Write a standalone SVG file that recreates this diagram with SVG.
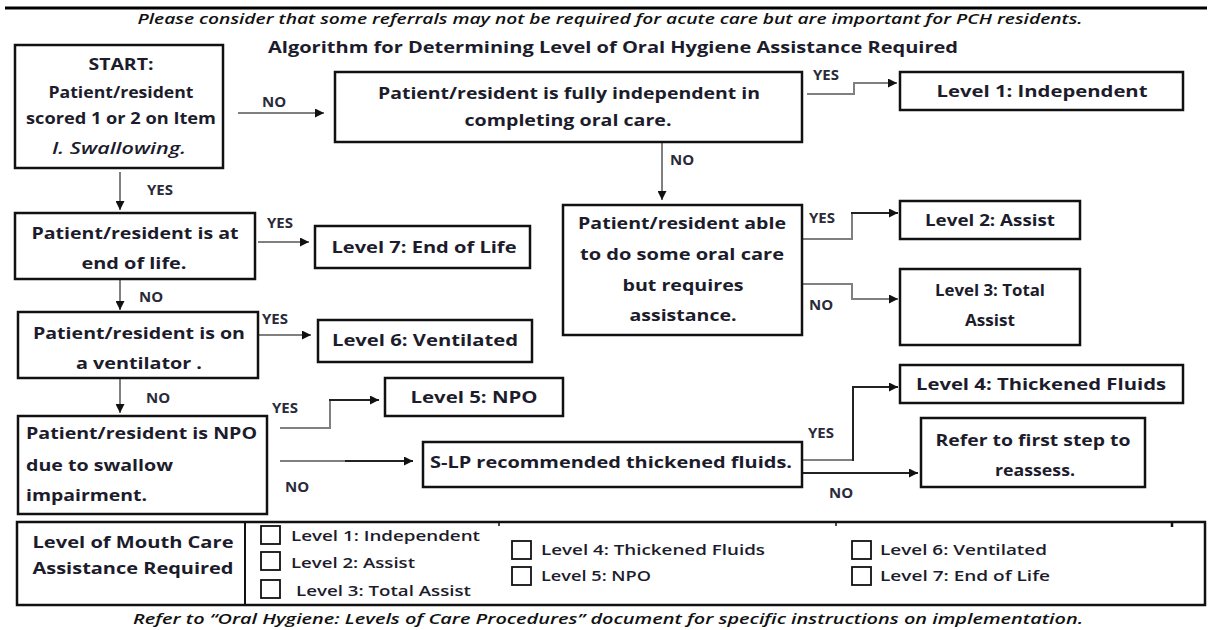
<svg xmlns="http://www.w3.org/2000/svg" width="1211" height="630" viewBox="0 0 1211 630">
<defs>
<marker id="arr" viewBox="0 0 10 10" refX="10" refY="5" markerWidth="9" markerHeight="9" markerUnits="userSpaceOnUse" orient="auto">
<path d="M0,0 L10,5 L0,10 z" fill="#111"/>
</marker>
</defs>
<style>
.box{fill:#fff;stroke:#111;stroke-width:2.5}
.b{font-family:"Open Sans","Liberation Sans",sans-serif;font-weight:700;font-size:16px;fill:#1c1c2c;text-anchor:middle}
.l{text-anchor:start}
.it{font-style:italic;font-weight:600}
.lab{font-family:"Open Sans","Liberation Sans",sans-serif;font-weight:700;font-size:15px;fill:#2a2a3a}
.hd{font-family:"Open Sans","Liberation Sans",sans-serif;font-weight:600;font-style:italic;font-size:14px;fill:#111;text-anchor:middle}
.ck{fill:#fff;stroke:#111;stroke-width:1.8}
.ct{font-family:"Open Sans","Liberation Sans",sans-serif;font-weight:600;font-size:15px;fill:#1c1c2c}
.c{fill:none;stroke:#808080;stroke-width:2}
.a{marker-end:url(#arr)}
.d{stroke:#222}
</style>
<rect width="1211" height="630" fill="#fff"/>
<line x1="5" y1="8" x2="1207" y2="8" stroke="#000" stroke-width="3"/>
<text class="hd" x="610" y="24" textLength="945" lengthAdjust="spacingAndGlyphs">Please consider that some referrals may not be required for acute care but are important for PCH residents.</text>
<text class="b" x="613" y="53" textLength="690" lengthAdjust="spacingAndGlyphs">Algorithm for Determining Level of Oral Hygiene Assistance Required</text>

<g id="connectors">
<path class="c a" d="M238,113 H324"/>
<path class="c a" d="M120,172 V210"/>
<path class="c" d="M807,94 H854 V83"/>
<path class="c a" d="M853,83 H897"/>
<path class="c a" d="M662,142 V200"/>
<path class="c" d="M802,239 H852 V213"/>
<path class="c d a" d="M851,213 H898"/>
<path class="c" d="M802,284 H852 V299"/>
<path class="c a" d="M851,299 H898"/>
<path class="c a" d="M258,242 H309"/>
<path class="c a" d="M120,280 V310"/>
<path class="c a" d="M258,335 H311"/>
<path class="c a" d="M120,378 V413"/>
<path class="c" d="M280,428 H330 V400"/>
<path class="c d a" d="M329,400 H379"/>
<path class="c" d="M280,461 H345"/>
<path class="c d a" d="M345,461 H413"/>
<path class="c" d="M802,460 H853"/>
<path class="c d a" d="M853,461 V387 H898"/>
<path class="c d a" d="M802,473 H918"/>
<text class="lab" x="262" y="107">NO</text>
<text class="lab" x="147" y="195">YES</text>
<text class="lab" x="813" y="80">YES</text>
<text class="lab" x="670" y="165">NO</text>
<text class="lab" x="809" y="223">YES</text>
<text class="lab" x="809" y="310">NO</text>
<text class="lab" x="267" y="228">YES</text>
<text class="lab" x="139" y="302">NO</text>
<text class="lab" x="262" y="324">YES</text>
<text class="lab" x="146" y="403">NO</text>
<text class="lab" x="272" y="413">YES</text>
<text class="lab" x="285" y="492">NO</text>
<text class="lab" x="808" y="438">YES</text>
<text class="lab" x="829" y="498">NO</text>
</g>

<g id="start">
<rect class="box" x="15" y="45" width="208" height="123"/>
<text class="b" x="121" y="70" textLength="65" lengthAdjust="spacingAndGlyphs">START:</text>
<text class="b" x="121" y="98" textLength="145" lengthAdjust="spacingAndGlyphs">Patient/resident</text>
<text class="b" x="121" y="124" textLength="190" lengthAdjust="spacingAndGlyphs">scored 1 or 2 on Item</text>
<text class="b it" x="119" y="154" textLength="134" lengthAdjust="spacingAndGlyphs">I. Swallowing.</text>
</g>
<g id="independent">
<rect class="box" x="335" y="72" width="467" height="70"/>
<text class="b" x="569" y="99" textLength="382" lengthAdjust="spacingAndGlyphs">Patient/resident is fully independent in</text>
<text class="b" x="568" y="126" textLength="207" lengthAdjust="spacingAndGlyphs">completing oral care.</text>
</g>
<g id="level1">
<rect class="box" x="900" y="72" width="283" height="38"/>
<text class="b" x="1042" y="97" textLength="211" lengthAdjust="spacingAndGlyphs">Level 1: Independent</text>
</g>
<g id="able">
<rect class="box" x="563" y="205" width="239" height="130"/>
<text class="b" x="682" y="229" textLength="208" lengthAdjust="spacingAndGlyphs">Patient/resident able</text>
<text class="b" x="682" y="260" textLength="204" lengthAdjust="spacingAndGlyphs">to do some oral care</text>
<text class="b" x="683" y="291" textLength="121" lengthAdjust="spacingAndGlyphs">but requires</text>
<text class="b" x="683" y="321" textLength="107" lengthAdjust="spacingAndGlyphs">assistance.</text>
</g>
<g id="level2">
<rect class="box" x="900" y="201" width="180" height="38"/>
<text class="b" x="990" y="226" textLength="130" lengthAdjust="spacingAndGlyphs">Level 2: Assist</text>
</g>
<g id="level3">
<rect class="box" x="900" y="269" width="180" height="76"/>
<text class="b" x="990" y="296" textLength="110" lengthAdjust="spacingAndGlyphs">Level 3: Total</text>
<text class="b" x="990" y="326" textLength="50" lengthAdjust="spacingAndGlyphs">Assist</text>
</g>
<g id="endoflife">
<rect class="box" x="15" y="213" width="240" height="66"/>
<text class="b" x="135" y="239" textLength="207" lengthAdjust="spacingAndGlyphs">Patient/resident is at</text>
<text class="b" x="134" y="269" textLength="105" lengthAdjust="spacingAndGlyphs">end of life.</text>
</g>
<g id="level7">
<rect class="box" x="315" y="226" width="215" height="42"/>
<text class="b" x="424" y="253" textLength="185" lengthAdjust="spacingAndGlyphs">Level 7: End of Life</text>
</g>
<g id="ventilator">
<rect class="box" x="18" y="312" width="240" height="66"/>
<text class="b" x="139" y="339" textLength="212" lengthAdjust="spacingAndGlyphs">Patient/resident is on</text>
<text class="b" x="139" y="369" textLength="126" lengthAdjust="spacingAndGlyphs">a ventilator .</text>
</g>
<g id="level6">
<rect class="box" x="318" y="320" width="214" height="42"/>
<text class="b" x="425" y="346" textLength="186" lengthAdjust="spacingAndGlyphs">Level 6: Ventilated</text>
</g>
<g id="level5">
<rect class="box" x="385" y="378" width="178" height="38"/>
<text class="b" x="474" y="403" textLength="127" lengthAdjust="spacingAndGlyphs">Level 5: NPO</text>
</g>
<g id="npo">
<rect class="box" x="18" y="416" width="249" height="98"/>
<text class="b l" x="26" y="439" textLength="231" lengthAdjust="spacingAndGlyphs">Patient/resident is NPO</text>
<text class="b l" x="26" y="471" textLength="147" lengthAdjust="spacingAndGlyphs">due to swallow</text>
<text class="b l" x="26" y="501" textLength="121" lengthAdjust="spacingAndGlyphs">impairment.</text>
</g>
<g id="slp">
<rect class="box" x="423" y="442" width="379" height="45"/>
<text class="b" x="611" y="468" textLength="362" lengthAdjust="spacingAndGlyphs">S-LP recommended thickened fluids.</text>
</g>
<g id="level4">
<rect class="box" x="900" y="365" width="283" height="38"/>
<text class="b" x="1041" y="390" textLength="250" lengthAdjust="spacingAndGlyphs">Level 4: Thickened Fluids</text>
</g>
<g id="refer">
<rect class="box" x="921" y="418" width="224" height="69"/>
<text class="b" x="1033" y="446" textLength="195" lengthAdjust="spacingAndGlyphs">Refer to first step to</text>
<text class="b" x="1035" y="476" textLength="80" lengthAdjust="spacingAndGlyphs">reassess.</text>
</g>

<g id="table">
<rect class="box" x="17" y="522" width="1188" height="83"/>
<line x1="245" y1="522" x2="245" y2="605" stroke="#111" stroke-width="2"/>
<line x1="499" y1="522" x2="499" y2="526" stroke="#111" stroke-width="1.5"/>
<line x1="836" y1="522" x2="836" y2="526" stroke="#111" stroke-width="1.5"/>
<line x1="1172" y1="522" x2="1172" y2="527" stroke="#111" stroke-width="2.5"/>
<text class="b" x="133" y="548" textLength="201" lengthAdjust="spacingAndGlyphs">Level of Mouth Care</text>
<text class="b" x="133" y="574" textLength="201" lengthAdjust="spacingAndGlyphs">Assistance Required</text>
<rect class="ck" x="261" y="526" width="19" height="18"/>
<rect class="ck" x="261" y="552" width="19" height="18"/>
<rect class="ck" x="261" y="580" width="19" height="18"/>
<text class="ct" x="291" y="541" textLength="189" lengthAdjust="spacingAndGlyphs">Level 1: Independent</text>
<text class="ct" x="291" y="568" textLength="124" lengthAdjust="spacingAndGlyphs">Level 2: Assist</text>
<text class="ct" x="296" y="596" textLength="175" lengthAdjust="spacingAndGlyphs">Level 3: Total Assist</text>
<rect class="ck" x="512" y="541" width="19" height="18"/>
<rect class="ck" x="512" y="567" width="19" height="18"/>
<text class="ct" x="541" y="555" textLength="224" lengthAdjust="spacingAndGlyphs">Level 4: Thickened Fluids</text>
<text class="ct" x="541" y="581" textLength="110" lengthAdjust="spacingAndGlyphs">Level 5: NPO</text>
<rect class="ck" x="852" y="541" width="19" height="18"/>
<rect class="ck" x="852" y="567" width="19" height="18"/>
<text class="ct" x="880" y="555" textLength="167" lengthAdjust="spacingAndGlyphs">Level 6: Ventilated</text>
<text class="ct" x="880" y="581" textLength="170" lengthAdjust="spacingAndGlyphs">Level 7: End of Life</text>
</g>
<text class="hd" x="608" y="624" textLength="950" lengthAdjust="spacingAndGlyphs">Refer to “Oral Hygiene: Levels of Care Procedures” document for specific instructions on implementation.</text>
</svg>
